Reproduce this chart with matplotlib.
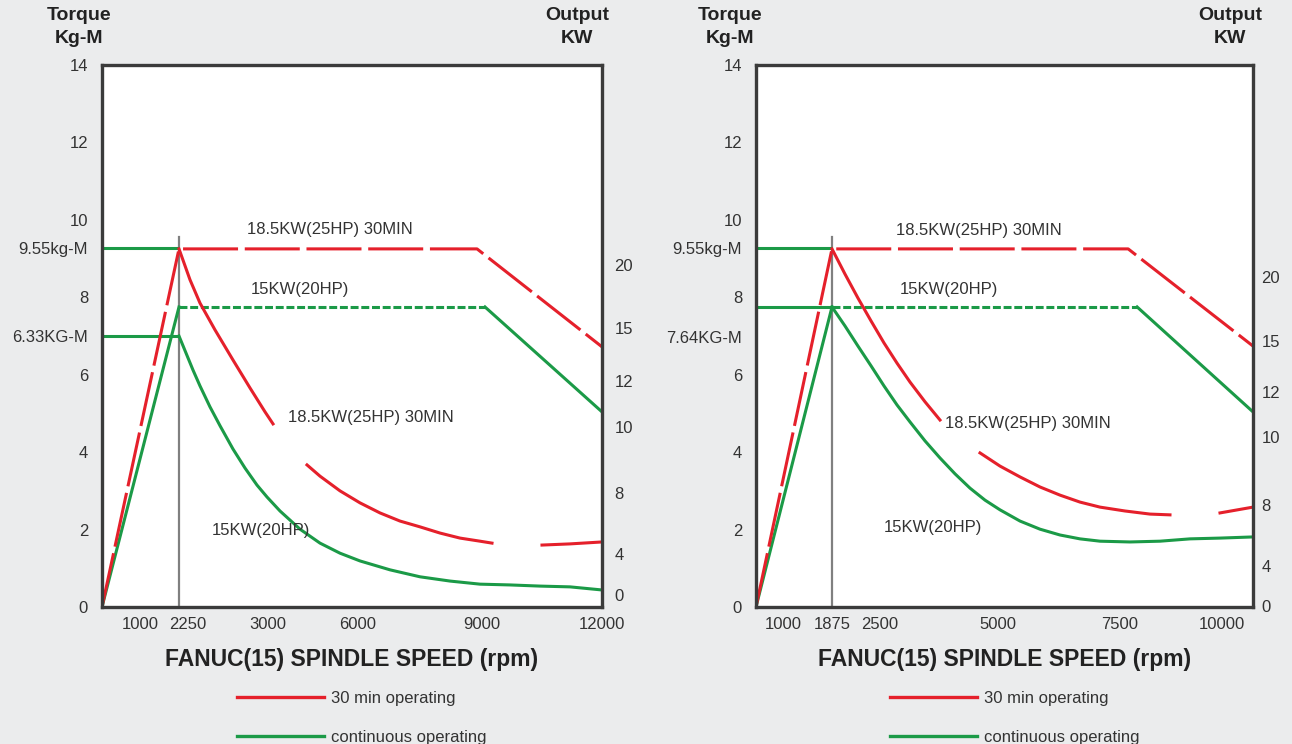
import numpy as np
import matplotlib.pyplot as plt
import matplotlib.transforms as mtransforms
from matplotlib.lines import Line2D

plt.rcParams['font.family'] = ['Liberation Sans', 'DejaVu Sans']

RED = '#e5202b'
GREEN = '#1b9a47'
FRAME = '#3b3b3b'
BG = '#ebeced'
nan = np.nan

kw_labels = ['20', '15', '12', '10', '8', '4', '0']
torque_ticks = [0, 2, 4, 6, 8, 10, 12, 14]

# ---- left chart: 12000 rpm spindle ----
left_xticks = [1000, 2250, 3000, 6000, 9000, 12000]
left_xmax = 12000
left_base = 2250
left_peak_label = ['9.55kg-M', '6.33KG-M']
left_peak_val = [9.27, 7.0]
left_kw_pos = [8.83, 7.21, 5.84, 4.65, 2.95, 1.37, 0.31]

left_red_env_x = [0, 2250, 8880, 12000]
left_red_env_y = [0, 9.25, 9.25, 6.72]
left_grn_rise_x = [0, 2250]
left_grn_rise_y = [0, 7.75]
left_grn_flat_x = [2250, 9075]
left_grn_flat_y = [7.75, 7.75]
left_grn_fall_x = [9075, 12000]
left_grn_fall_y = [7.75, 5.04]
left_grn_hlines = [9.27, 7.0]

left_red_pow_x = [2250, 2343, 2427, 2553, 2705, 2848, 2975, 3167, nan,
                  4300, 4733, 5400, 6048, 6532, 7016, 7500, 7984, 8468, 8952, 9250, nan,
                  10500, 11200, 12000]
left_red_pow_y = [9.25, 8.45, 7.85, 7.16, 6.38, 5.66, 5.04, 4.73, nan,
                  3.67, 3.38, 3.00, 2.69, 2.43, 2.22, 2.07, 1.91, 1.78, 1.70, 1.65, nan,
                  1.60, 1.63, 1.68]
left_grn_pow_x = [2250, 2309, 2368, 2427, 2511, 2596, 2705, 2806, 2907, 2992, 3400,
                  4067, 4733, 5400, 6048, 6774, 7500, 8226, 8952, 9700, 10450,
                  11200, 12000]
left_grn_pow_y = [7.00, 6.56, 6.12, 5.71, 5.17, 4.68, 4.08, 3.59, 3.15, 2.84, 2.48,
                  2.01, 1.65, 1.39, 1.19, 0.96, 0.78, 0.67, 0.59, 0.57, 0.54,
                  0.52, 0.44]

# ---- right chart: 10000 rpm spindle ----
right_xticks = [1000, 1875, 2500, 5000, 7500, 10000]
right_xmax = 10750
right_base = 1875
right_peak_label = ['9.55kg-M', '7.64KG-M']
right_peak_val = [9.27, 6.97]
right_kw_pos = [8.52, 6.87, 5.55, 4.39, 2.63, 1.06, 0.03]

right_red_env_x = [0, 1875, 7700, 10750]
right_red_env_y = [0, 9.25, 9.25, 6.74]
right_grn_rise_x = [0, 1875]
right_grn_rise_y = [0, 7.75]
right_grn_flat_x = [1875, 7920]
right_grn_flat_y = [7.75, 7.75]
right_grn_fall_x = [7920, 10750]
right_grn_fall_y = [7.75, 5.04]
right_grn_hlines = [9.27, 7.75]

right_red_pow_x = [1875, 2044, 2213, 2383, 2585, 2860, 3136, 3454, 3771, nan,
                   4619, 5041, 5451, 5861, 6270, 6680, 7090, 7623, 8235, 8725, nan,
                   9951, 10750]
right_red_pow_y = [9.25, 8.60, 7.98, 7.39, 6.82, 6.30, 5.81, 5.30, 4.83, nan,
                   3.98, 3.64, 3.36, 3.10, 2.89, 2.71, 2.58, 2.48, 2.40, 2.38, nan,
                   2.43, 2.58]
right_grn_pow_x = [1875, 2044, 2213, 2383, 2585, 2860, 3136, 3454, 3771, 4089, 4407,
                   4725, 5041, 5451, 5861, 6270, 6680, 7090, 7745, 8480, 9216,
                   9951, 10750]
right_grn_pow_y = [7.75, 7.26, 6.74, 6.23, 5.71, 5.22, 4.78, 4.29, 3.85, 3.44, 3.07,
                   2.76, 2.51, 2.22, 2.01, 1.86, 1.76, 1.70, 1.68, 1.70, 1.76,
                   1.78, 1.81]

# the speed axis on the original is not linear: breakpoints (rpm -> relative position)
left_scale_rpm = [0, 1000, 2250, 3000, 6000, 9000, 12000]
left_scale_pos = [0, 38, 77, 166, 256, 380, 500]
right_scale_rpm = [0, 1000, 1875, 2500, 5000, 7500, 10000, 10750]
right_scale_pos = [0, 27, 76, 124, 242, 364, 466, 497]


def draw_panel(ax, xticks, xmax, base, scale_rpm, scale_pos, peak_label, peak_val,
               kw_pos, red_env, grn_rise, grn_flat, grn_fall, grn_hlines,
               red_pow, grn_pow, label_pos, xlab_shift, kw_pad):
    fwd = lambda v: np.interp(v, scale_rpm, scale_pos)
    inv = lambda p: np.interp(p, scale_pos, scale_rpm)
    ax.set_xscale('function', functions=(fwd, inv))
    ax.set_xlim(0, xmax)
    ax.set_ylim(0, 14)
    ax.set_facecolor('white')

    lw = 2.2
    # continuous (green)
    for h in grn_hlines:
        ax.plot([0, base], [h, h], color=GREEN, lw=lw, solid_capstyle='butt')
    ax.plot(*grn_rise, color=GREEN, lw=lw)
    ax.plot(*grn_flat, color=GREEN, lw=lw, linestyle=(0, (2.6, 0.9)))
    ax.plot(*grn_fall, color=GREEN, lw=lw)
    ax.plot(*grn_pow, color=GREEN, lw=lw)
    # 30 min (red)
    ax.plot(*red_env, color=RED, lw=lw, linestyle=(0, (18, 2.2)))
    ax.plot(*red_pow, color=RED, lw=lw)
    # base speed marker
    ax.plot([base, base], [0, 9.56], color='#808080', lw=1.6, zorder=1)

    names = ['18.5KW(25HP) 30MIN', '15KW(20HP)', '18.5KW(25HP) 30MIN', '15KW(20HP)']
    for name, (tx, ty) in zip(names, label_pos):
        ax.text(tx, ty, name, transform=ax.transAxes, fontsize=12,
                ha='left', va='center', color='#333333')

    ax.set_yticks(torque_ticks + peak_val, [str(t) for t in torque_ticks] + peak_label)
    ax.set_xticks(xticks, [str(t) for t in xticks])
    ax.tick_params(which='both', length=0, labelsize=12, labelcolor='#333333')
    ax.tick_params(axis='y', pad=10)
    ax.tick_params(axis='x', pad=7)
    for sp in ax.spines.values():
        sp.set_linewidth(2.4)
        sp.set_color(FRAME)

    ax2 = ax.twinx()
    ax2.set_ylim(0, 14)
    ax2.set_yticks(kw_pos, kw_labels)
    ax2.tick_params(length=0, labelsize=12, labelcolor='#333333', pad=kw_pad)
    for sp in ax2.spines.values():
        sp.set_visible(False)

    ax.set_xlabel('FANUC(15) SPINDLE SPEED (rpm)', fontsize=16.5,
                  fontweight='bold', color='#222222', labelpad=12)

    handles = [Line2D([], [], color=RED, lw=2.4),
               Line2D([], [], color=GREEN, lw=2.4)]
    ax.legend(handles, ['30 min operating', 'continuous operating'],
              loc='upper left', bbox_to_anchor=(0.27, -0.155), frameon=False,
              fontsize=12, handlelength=5.2, handletextpad=0.45,
              labelspacing=1.42, borderpad=0, borderaxespad=0,
              labelcolor='#333333')

    if xlab_shift:
        for lab in ax.get_xticklabels():
            if lab.get_text() == str(base):
                off = mtransforms.ScaledTranslation(xlab_shift / 100, 0,
                                                    ax.figure.dpi_scale_trans)
                lab.set_transform(lab.get_transform() + off)
    return ax2


fig = plt.figure(figsize=(12.92, 7.44), dpi=100)
fig.patch.set_facecolor(BG)

axL = fig.add_axes([102 / 1292, 137 / 744, 500 / 1292, 542 / 744])
axR = fig.add_axes([756 / 1292, 137 / 744, 497 / 1292, 542 / 744])

draw_panel(axL, left_xticks, left_xmax, left_base, left_scale_rpm, left_scale_pos,
           left_peak_label, left_peak_val, left_kw_pos,
           (left_red_env_x, left_red_env_y), (left_grn_rise_x, left_grn_rise_y),
           (left_grn_flat_x, left_grn_flat_y), (left_grn_fall_x, left_grn_fall_y),
           left_grn_hlines, (left_red_pow_x, left_red_pow_y),
           (left_grn_pow_x, left_grn_pow_y),
           [(0.29, 0.696), (0.298, 0.585), (0.372, 0.349), (0.22, 0.142)], 9, 9)
draw_panel(axR, right_xticks, right_xmax, right_base, right_scale_rpm, right_scale_pos,
           right_peak_label, right_peak_val, right_kw_pos,
           (right_red_env_x, right_red_env_y), (right_grn_rise_x, right_grn_rise_y),
           (right_grn_flat_x, right_grn_flat_y), (right_grn_fall_x, right_grn_fall_y),
           right_grn_hlines, (right_red_pow_x, right_red_pow_y),
           (right_grn_pow_x, right_grn_pow_y),
           [(0.282, 0.694), (0.29, 0.585), (0.38, 0.338), (0.258, 0.146)], 0, 6)

for cx in (79, 730):
    fig.text(cx / 1292, 1 - 7 / 744, 'Torque\nKg-M', ha='center', va='top',
             fontsize=14, fontweight='bold', color='#222222', linespacing=1.45)
for cx in (577, 1230):
    fig.text(cx / 1292, 1 - 7 / 744, 'Output\nKW', ha='center', va='top',
             fontsize=14, fontweight='bold', color='#222222', linespacing=1.45)

fig.savefig('out.png', dpi=100, facecolor=BG)
